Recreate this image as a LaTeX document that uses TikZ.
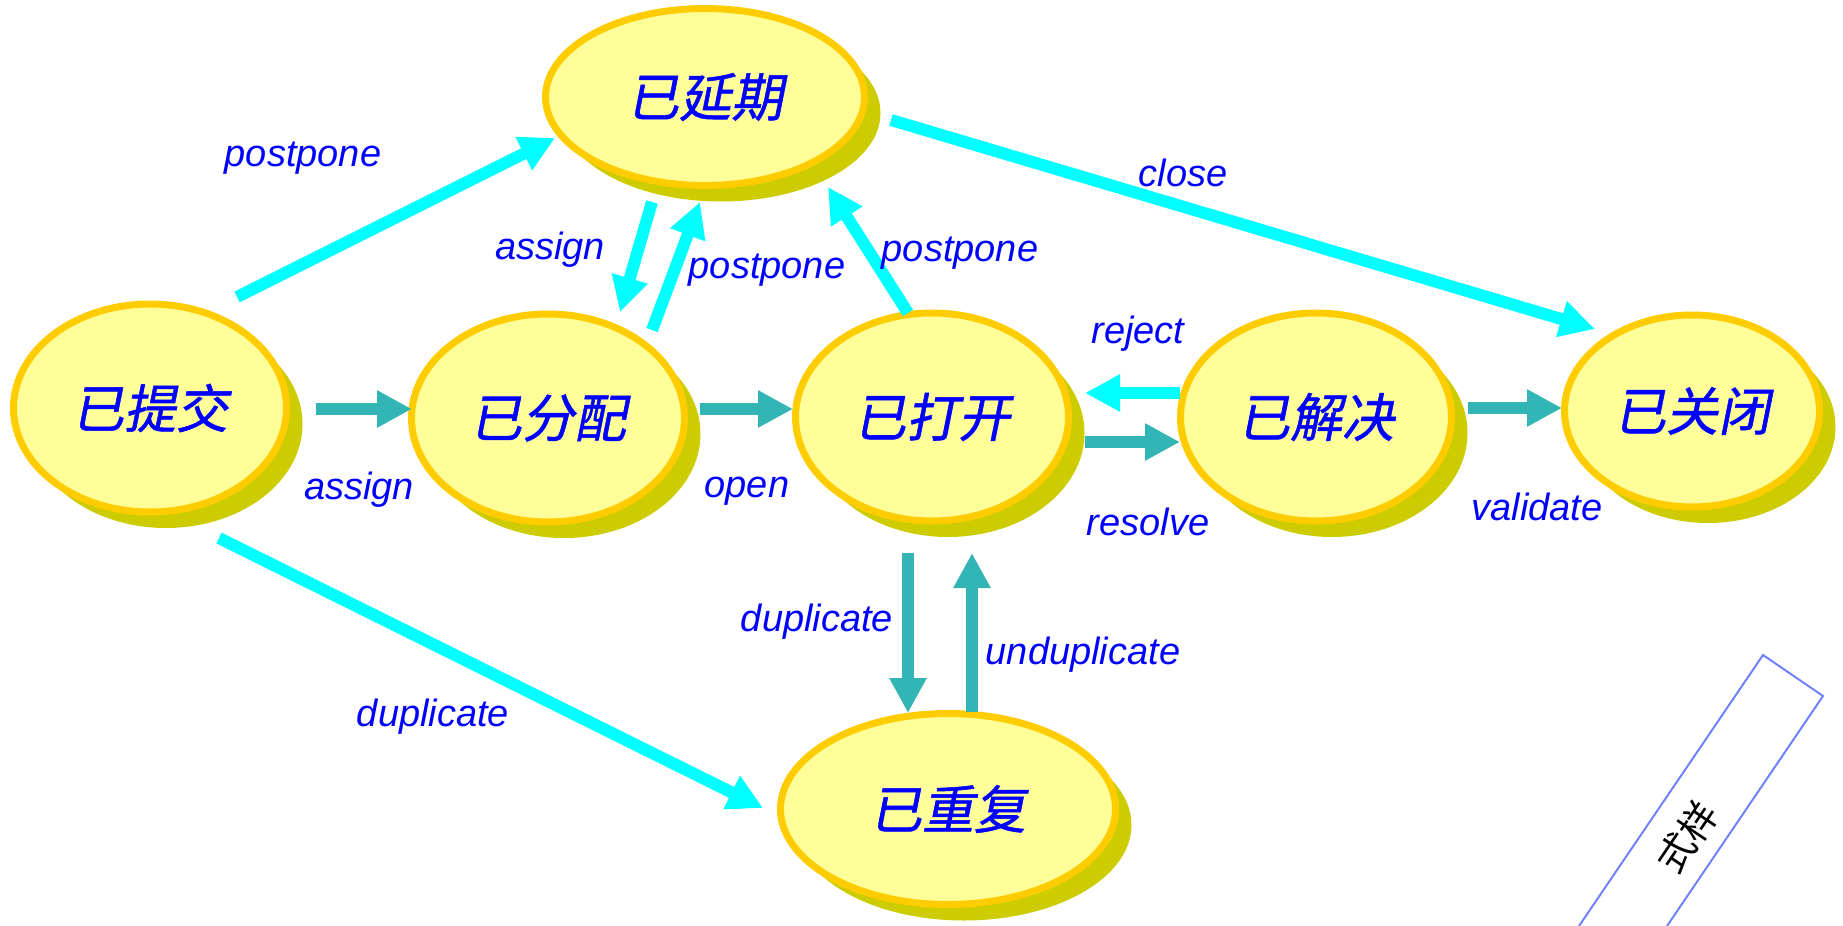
\documentclass[tikz,border=0pt]{standalone}
\usepackage{fontspec}
\usetikzlibrary{arrows.meta,shapes.geometric,shadows,calc}
\newfontfamily\statefont[FakeSlant=0.2,FakeBold=1]{Noto Sans CJK SC}
\newfontfamily\markfont{Noto Sans CJK SC}
\newfontfamily\edgefont{Liberation Sans}
\definecolor{rimc}{HTML}{FFCC00}
\definecolor{bodyc}{HTML}{FFFF99}
\definecolor{shadec}{HTML}{CCCC00}
\definecolor{skyc}{HTML}{00FFFF}
\definecolor{tealc}{HTML}{33B5B5}
\definecolor{inkc}{HTML}{0000FF}
\definecolor{markc}{HTML}{6E82FF}
\begin{document}
\begin{tikzpicture}[
        x=0.5pt, y=-0.5pt,
        state/.style={ellipse, draw=rimc, fill=bodyc, line width=3.5pt, inner sep=0pt,
            minimum width=136.5pt, minimum height=104pt, text=inkc,
            font=\statefont\fontsize{26}{30}\selectfont,
            general shadow={fill=shadec, shadow xshift=8pt, shadow yshift=-8pt}},
        skyflow/.style={draw=skyc, line width=6pt, -{Triangle[length=17.5pt,width=17.5pt]}},
        tealflow/.style={draw=tealc, line width=6pt, -{Triangle[length=17.5pt,width=17.5pt]}},
        lbl/.style={text=inkc, font=\edgefont\itshape\fontsize{19}{22}\selectfont},
    ]
    \useasboundingbox (0,0) rectangle (1843,926);
    \node[state](sub) at (150,408){已提交};
    \node[state, minimum width=159.5pt, minimum height=88.5pt](post) at (705,97){已延期};
    \node[state](asg) at (548,418){已分配};
    \node[state](opn) at (932,417){已打开};
    \node[state, minimum width=135.5pt](res) at (1316,417){已解决};
    \node[state, minimum width=127.5pt, minimum height=96pt](cls) at (1692,411){已关闭};
    \node[state, minimum width=167.5pt, minimum height=95.5pt](dup) at (948,809){已重复};

    \draw[skyflow] ($(sub)+(87,-111)$) -- ($(post)+(-150,41)$);
    \draw[skyflow] ($(post)+(-53,105)$) -- ($(asg)+(72,-106)$);
    \draw[skyflow] ($(asg)+(104,-88)$) -- ($(post)+(-5,105)$);
    \draw[skyflow] ($(opn)+(-24,-104)$) -- ($(post)+(123,90)$);
    \draw[skyflow] ($(post)+(186,23)$) -- ($(cls)+(-97,-82)$);
    \draw[skyflow] ($(sub)+(69,130)$) -- ($(dup)+(-185,-1)$);
    \draw[skyflow] ($(res)+(-136,-24)$) -- ($(opn)+(153,-24)$);
    \draw[tealflow] ($(sub)+(166,1)$) -- ($(asg)+(-136,-9)$);
    \draw[tealflow] ($(asg)+(152,-9)$) -- ($(opn)+(-139,-8)$);
    \draw[tealflow] ($(opn)+(153,25)$) -- ($(res)+(-136,25)$);
    \draw[tealflow] ($(res)+(152,-9)$) -- ($(cls)+(-130,-3)$);
    \draw[tealflow] ($(opn)+(-24,136)$) -- ($(dup)+(-40,-96)$);
    \draw[tealflow] ($(dup)+(24,-97)$) -- ($(opn)+(40,136)$);

    \node[lbl](postpone1) at (303,158){postpone};
    \node[lbl](assign1) at (550,250){assign};
    \node[lbl](postpone2) at (767,270){postpone};
    \node[lbl](postpone3) at (960,253){postpone};
    \node[lbl](close) at (1183,173){close};
    \node[lbl](reject) at (1138,334){reject};
    \node[lbl](assign2) at (359,490){assign};
    \node[lbl](open) at (747,491){open};
    \node[lbl](resolve) at (1148,522){resolve};
    \node[lbl](validate) at (1537,507){validate};
    \node[lbl](duplicate1) at (817,622){duplicate};
    \node[lbl](unduplicate) at (1083,655){unduplicate};
    \node[lbl](duplicate2) at (433,717){duplicate};

    \draw[markc, line width=1pt] (1579,926) -- (1763,655) -- (1823,696) -- (1667,926);
    \node[rotate=56, font=\markfont\fontsize{19}{22}\selectfont](mark) at (1687,837){式样};
\end{tikzpicture}
\end{document}
